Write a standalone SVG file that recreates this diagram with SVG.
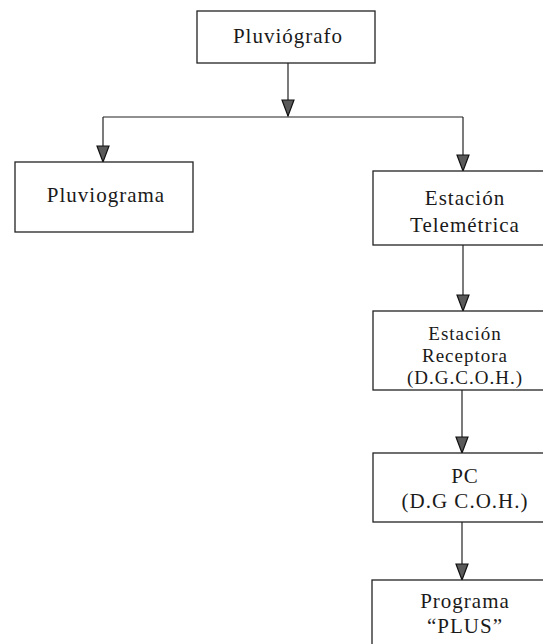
<svg xmlns="http://www.w3.org/2000/svg" width="543" height="644" viewBox="0 0 543 644">
<defs>
<marker id="ah" markerUnits="userSpaceOnUse" markerWidth="18" markerHeight="14" viewBox="0 0 18 14" refX="17" refY="7" orient="auto">
<path d="M1,1 L17,7 L1,13 Z" fill="#5a5a5a" stroke="#111" stroke-width="1.2"/>
</marker>
<style>
rect{fill:#fff;stroke:#222;stroke-width:1.3}
.c{fill:none;stroke:#222;stroke-width:1.2}
text{font-family:"Liberation Serif","Times New Roman",serif;font-size:21px;fill:#1a1a1a;text-anchor:middle;letter-spacing:1px}
.s{font-size:19px}
</style>
</defs>
<g id="connectors">
<path class="c" d="M288,63 V116" marker-end="url(#ah)"/>
<path class="c" d="M103,117 H463"/>
<path class="c" d="M103,117 V162" marker-end="url(#ah)"/>
<path class="c" d="M463,117 V171" marker-end="url(#ah)"/>
<path class="c" d="M463,245 V311" marker-end="url(#ah)"/>
<path class="c" d="M462,390 V453" marker-end="url(#ah)"/>
<path class="c" d="M462,522 V580" marker-end="url(#ah)"/>
</g>
<g id="pluviografo">
<rect x="197" y="11" width="178" height="52"/>
<text x="288" y="43">Pluviógrafo</text>
</g>
<g id="pluviograma">
<rect x="15" y="162" width="178" height="70"/>
<text x="106" y="202">Pluviograma</text>
</g>
<g id="telemetrica">
<rect x="373" y="171" width="184" height="74"/>
<text x="465" y="205">Estación</text>
<text x="465" y="232">Telemétrica</text>
</g>
<g id="receptora">
<rect x="373" y="311" width="184" height="79"/>
<text class="s" x="465" y="340">Estación</text>
<text class="s" x="465" y="362">Receptora</text>
<text class="s" x="465" y="384">(D.G.C.O.H.)</text>
</g>
<g id="pc">
<rect x="373" y="453" width="184" height="69"/>
<text x="465" y="483">PC</text>
<text x="465" y="508">(D.G C.O.H.)</text>
</g>
<g id="plus">
<rect x="372" y="580" width="184" height="80"/>
<text x="465" y="608">Programa</text>
<text x="465" y="633">“PLUS”</text>
</g>
</svg>
